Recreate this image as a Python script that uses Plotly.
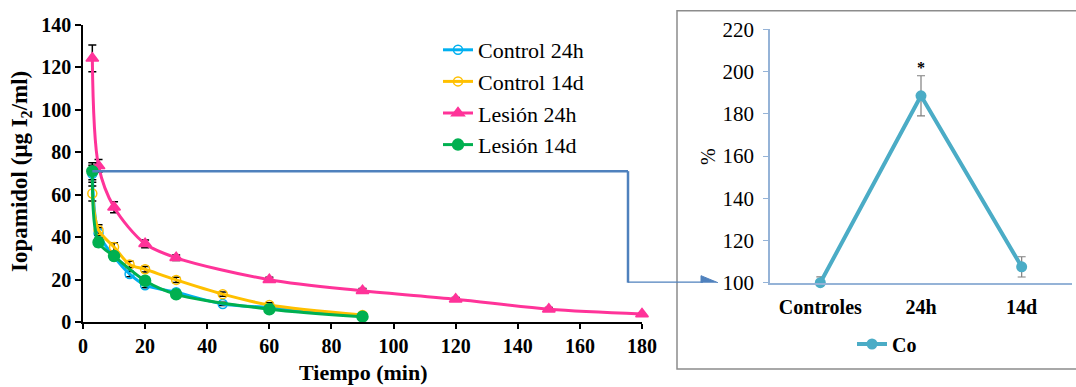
import plotly.graph_objects as go

W, H = 1076, 387

# ---- left panel: iopamidol clearance curves ----
t_c24 = [3, 5, 10, 15, 20, 30, 45, 60, 90]
c24 = [70, 42, 31, 22.8, 17.5, 14.2, 8.7, 7.0, 3.0]
c24_err = [4.0, 2.5, 1.5, 1.3, 1.2, 1.0, 0.8, 0.8, 0.6]

t_c14 = [3, 5, 10, 15, 20, 30, 45, 60, 90]
c14 = [60.7, 43.5, 35.5, 27.3, 25.0, 20.0, 13.3, 8.2, 3.5]
c14_err = [3.5, 2.5, 2.0, 1.5, 1.3, 1.2, 1.0, 1.0, 0.8]

t_l24 = [3, 5, 10, 20, 30, 60, 90, 120, 150, 180]
l24 = [124.3, 73.7, 54.2, 37.0, 30.4, 20.1, 14.9, 10.9, 6.2, 4.0]
l24_err = [6.3, 3.0, 2.6, 1.8, 1.3, 1.2, 1.0, 0.8, 0.8, 0.6]

t_l14 = [3, 5, 10, 20, 30, 60, 90]
l14 = [71.2, 37.7, 31.2, 19.6, 13.2, 6.2, 2.7]
l14_err = [4.0, 2.0, 1.5, 1.5, 1.0, 1.0, 0.8]

left_xticks = list(range(0, 181, 20))
left_yticks = list(range(0, 141, 20))

# ---- right panel: relative percentage ----
groups = ["Controles", "24h", "14d"]
co_pct = [100, 188.5, 107.5]
co_err = [2.8, 9.5, 4.8]
right_yticks = list(range(100, 221, 20))


def px(x):
    return x / W


def py(y):
    return 1 - y / H


SERIF = "Liberation Serif, Times New Roman, DejaVu Serif, serif"
ERR = dict(type="data", color="black", thickness=1.5, width=4)

fig = go.Figure()

series = [
    ("Control 24h", t_c24, c24, c24_err, "#00B0F0", "circle-open", 9),
    ("Control 14d", t_c14, c14, c14_err, "#FFC000", "circle-open", 9),
    ("Lesión 24h", t_l24, l24, l24_err, "#FF3399", "triangle-up", 11),
    ("Lesión 14d", t_l14, l14, l14_err, "#00B050", "circle", 11),
]
for name, t, v, e, col, sym, size in series:
    fig.add_trace(go.Scatter(
        x=t, y=v, name=name, mode="lines+markers",
        line=dict(color=col, width=3, shape="spline", smoothing=0.9),
        marker=dict(symbol=sym, size=size, color=col,
                    line=dict(color=col, width=1.5)),
        error_y=dict(array=e, **ERR),
        xaxis="x", yaxis="y", legend="legend", cliponaxis=False,
    ))

fig.add_trace(go.Scatter(
    x=groups, y=co_pct, name="Co", mode="lines+markers",
    line=dict(color="#4BACC6", width=4),
    marker=dict(symbol="circle", size=11, color="#4BACC6"),
    error_y=dict(type="data", array=co_err, color="#7F7F7F", thickness=1.2, width=4),
    xaxis="x2", yaxis="y2", legend="legend2", cliponaxis=False,
))

fig.update_layout(
    width=W, height=H, margin=dict(l=0, r=0, t=0, b=0, autoexpand=False),
    paper_bgcolor="white", plot_bgcolor="white",
    font=dict(family=SERIF, color="black"),
    xaxis=dict(
        domain=[px(83), px(642)], range=[0, 180], anchor="y", automargin=False,
        tickvals=left_xticks, ticks="outside", ticklen=5, tickwidth=1.5,
        tickcolor="black", showline=True, linecolor="black", linewidth=1.5,
        showgrid=False, zeroline=False, ticklabelstandoff=0,
        tickfont=dict(family=SERIF, size=20, color="black", weight="bold"),
    ),
    yaxis=dict(
        domain=[py(322.4), py(25)], range=[0, 140], anchor="x", automargin=False,
        tickvals=left_yticks, ticks="outside", ticklen=6, tickwidth=1.5,
        tickcolor="black", showline=True, linecolor="black", linewidth=1.5,
        showgrid=False, zeroline=False, ticklabelstandoff=0,
        tickfont=dict(family=SERIF, size=20, color="black", weight="bold"),
    ),
    xaxis2=dict(
        domain=[px(770), px(1072)], range=[-0.5, 2.5], anchor="y2", automargin=False,
        type="category", ticks="", showline=True, linecolor="#95B3D7",
        linewidth=1.5, showgrid=False, zeroline=False, ticklabelstandoff=6,
        tickfont=dict(family=SERIF, size=20, color="black", weight="bold"),
    ),
    yaxis2=dict(
        domain=[py(282.7), py(29.3)], range=[100, 220], anchor="x2", automargin=False,
        tickvals=right_yticks, ticks="outside", ticklen=5, tickwidth=1.2,
        tickcolor="#95B3D7", showline=True, linecolor="#95B3D7", linewidth=1.5,
        showgrid=False, zeroline=False, ticklabelstandoff=5,
        tickfont=dict(family=SERIF, size=21, color="black"),
    ),
    legend=dict(
        x=px(438), y=py(29), xanchor="left", yanchor="top",
        bgcolor="rgba(0,0,0,0)", font=dict(family=SERIF, size=22, color="black"),
        itemwidth=30, tracegroupgap=0,
    ),
    legend2=dict(
        x=px(852), y=py(344), xanchor="left", yanchor="middle",
        bgcolor="rgba(0,0,0,0)",
        font=dict(family=SERIF, size=20, color="black", weight="bold"),
        itemwidth=30,
    ),
    showlegend=True,
)

# axis titles
fig.add_annotation(
    text="Iopamidol (μg I<sub>2</sub>/ml)", textangle=-90,
    x=px(21), y=py(172), xref="paper", yref="paper", showarrow=False,
    xanchor="center", yanchor="middle",
    font=dict(family=SERIF, size=23, color="black", weight="bold"),
)
fig.add_annotation(
    text="Tiempo (min)", x=px(363), y=py(372), xref="paper", yref="paper",
    xanchor="center", yanchor="middle", showarrow=False,
    font=dict(family=SERIF, size=22, color="black", weight="bold"),
)
fig.add_annotation(
    text="%", textangle=-90, x=px(708), y=py(157), xref="paper", yref="paper",
    xanchor="center", yanchor="middle", showarrow=False,
    font=dict(family=SERIF, size=20, color="black"),
)
# significance mark over 24h
fig.add_annotation(
    text="*", x="24h", y=co_pct[1] + co_err[1] + 4, xref="x2", yref="y2",
    showarrow=False, font=dict(family=SERIF, size=16, color="black", weight="bold"),
)

# frame around the inset panel
fig.add_shape(type="rect", xref="paper", yref="paper",
              x0=px(677), x1=px(1080), y0=py(369), y1=py(10.7),
              line=dict(color="#8C8C8C", width=1.5), fillcolor="rgba(0,0,0,0)")

# connector from the first Lesión 14d value to the 100 % reference level
CONN = dict(color="#4F81BD", width=2.5)
x_bend = px(628)
fig.add_shape(type="line", xref="x", yref="y", x0=t_l14[0], y0=l14[0],
              x1=180 * (628 - 83) / (642 - 83), y1=l14[0], line=CONN)
fig.add_shape(type="line", xref="paper", yref="paper",
              x0=x_bend, x1=x_bend,
              y0=py(322.4) + (py(25) - py(322.4)) * l14[0] / 140,
              y1=py(282.7), line=CONN)
fig.add_shape(type="line", xref="paper", yref="y2",
              x0=x_bend, x1=px(703), y0=co_pct[0], y1=co_pct[0], line=CONN)
# arrowhead pointing at the 100 % tick, sized in pixels
fig.add_shape(
    type="path", xref="paper", yref="y2",
    xsizemode="pixel", ysizemode="pixel",
    xanchor=px(718), yanchor=co_pct[0],
    path="M -17,-7 L 0,0 L -17,7 Z",
    fillcolor="#4F81BD", line=dict(color="#4F81BD", width=1),
)

fig.write_html("out.html")
